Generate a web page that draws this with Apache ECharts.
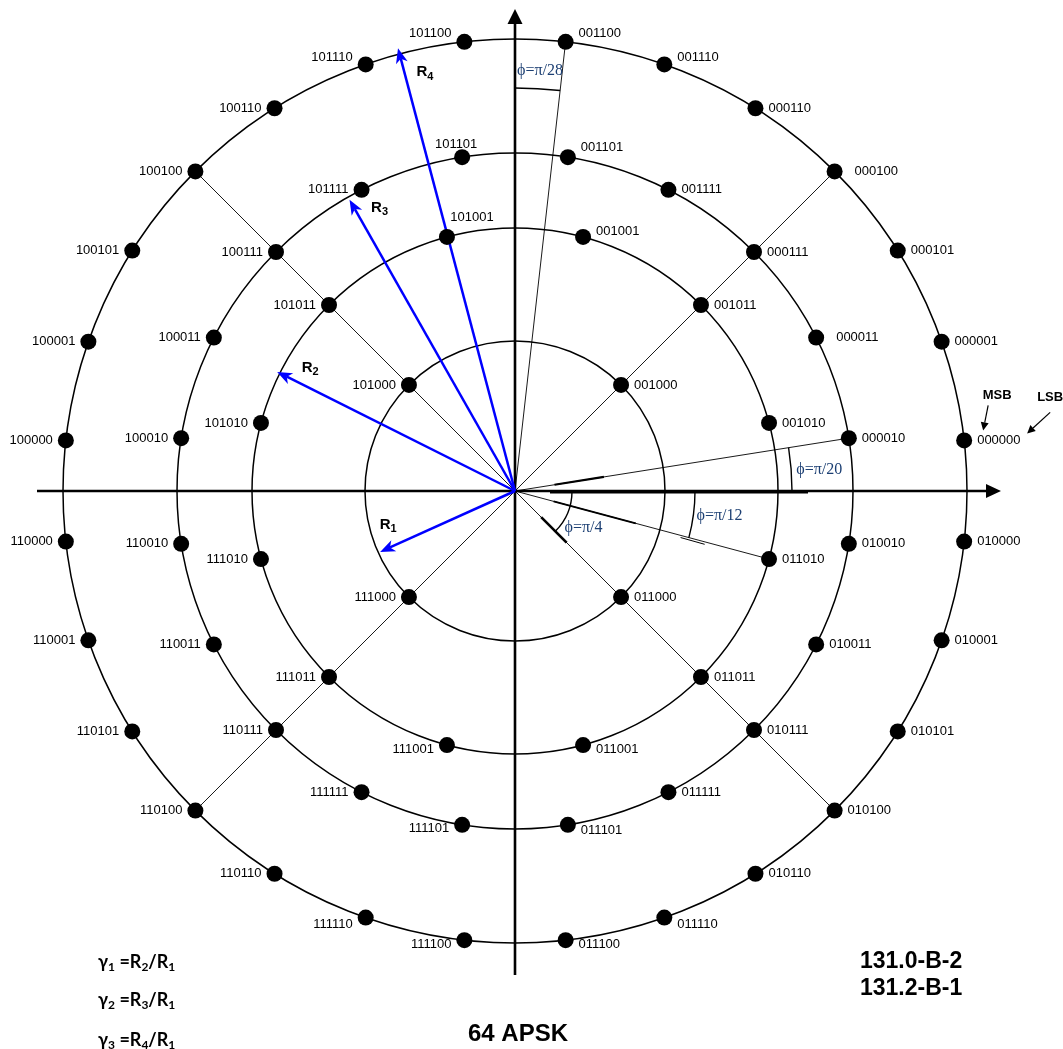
<!DOCTYPE html>
<html>
<head>
<meta charset="utf-8">
<title>64 APSK</title>
<script src="https://cdn.jsdelivr.net/npm/echarts@6/dist/echarts.min.js"></script>
<style>
  html, body { margin: 0; padding: 0; background: #fff; }
  #chart { width: 1063px; height: 1049px; }
</style>
</head>
<body>
<div id="chart"></div>
<script>
// Ring radii R1..R4
const ringRadius = [150, 263, 338, 452];

// Symbol phases on each ring, degrees counter-clockwise from the I axis
const ring1Angles = [45, 135, 225, 315];
const ring2Angles = [15, 45, 75, 105, 135, 165, 195, 225, 255, 285, 315, 345];
const ring3Angles = [9, 27, 45, 63, 81, 99, 117, 135, 153, 171,
                     189, 207, 225, 243, 261, 279, 297, 315, 333, 351];
const ring4Angles = [6.43, 19.29, 32.14, 45, 57.86, 70.71, 83.57,
                     96.43, 109.29, 122.14, 135, 147.86, 160.71, 173.57,
                     186.43, 199.29, 212.14, 225, 237.86, 250.71, 263.57,
                     276.43, 289.29, 302.14, 315, 327.86, 340.71, 353.57];

// Bit mapping (MSB first), in the same order as the phases
const ring1Bits = ['001000', '101000', '111000', '011000'];
const ring2Bits = ['001010', '001011', '001001', '101001', '101011', '101010',
                   '111010', '111011', '111001', '011001', '011011', '011010'];
const ring3Bits = ['000010', '000011', '000111', '001111', '001101',
                   '101101', '101111', '100111', '100011', '100010',
                   '110010', '110011', '110111', '111111', '111101',
                   '011101', '011111', '010111', '010011', '010010'];
const ring4Bits = ['000000', '000001', '000101', '000100', '000110', '001110', '001100',
                   '101100', '101110', '100110', '100100', '100101', '100001', '100000',
                   '110000', '110001', '110101', '110100', '110110', '111110', '111100',
                   '011100', '011110', '010110', '010100', '010101', '010001', '010000'];

// Radius vectors drawn in blue
const vectorNames = ['1', '2', '3', '4'];
const vectorLength = [148, 266, 335, 458];
const vectorAngle = [204.3, 153.4, 119.6, 104.8];

// Phase offset annotations
const phaseText = ['ϕ=π/28', 'ϕ=π/20', 'ϕ=π/12', 'ϕ=π/4'];

// ---------------------------------------------------------------------------
// Layout / style helpers

const LABEL_FONT = '"Liberation Sans", Arial, Helvetica, sans-serif';
const SERIF_FONT = '"Liberation Serif", "DejaVu Serif", "Times New Roman", serif';
const PHASE_COLOR = '#1c3f73';
const VECTOR_COLOR = '#0000ff';

// Per-symbol label placement where the default left/right does not fit
const labelTweaks = {
  '001100': { offset: [0, -8] },
  '101100': { offset: [0, -8] },
  '001110': { offset: [0, -7] },
  '101110': { offset: [0, -7] },
  '001101': { offset: [0, -10] },
  '101101': { position: 'top', distance: 0, offset: [-6, 2] },
  '101001': { position: 'top', offset: [25, 0] },
  '001001': { offset: [0, -6] },
  '111001': { offset: [0, 4] },
  '011001': { offset: [0, 4] },
  '111101': { offset: [0, 4] },
  '011101': { offset: [0, 6] },
  '111100': { offset: [0, 4] },
  '011100': { offset: [0, 4] },
  '111110': { offset: [0, 7] },
  '011110': { offset: [0, 7] },
  '000011': { distance: 12 },
  '000100': { distance: 12 }
};

const rings = [
  { r: ringRadius[0], angles: ring1Angles, bits: ring1Bits },
  { r: ringRadius[1], angles: ring2Angles, bits: ring2Bits },
  { r: ringRadius[2], angles: ring3Angles, bits: ring3Bits },
  { r: ringRadius[3], angles: ring4Angles, bits: ring4Bits }
];

const pointData = [];
rings.forEach(function (ring) {
  ring.angles.forEach(function (a, i) {
    const bits = ring.bits[i];
    const onRight = Math.cos(a * Math.PI / 180) > 0;
    const t = labelTweaks[bits] || {};
    pointData.push({
      name: bits,
      value: [ring.r, a],
      label: {
        position: t.position || (onRight ? 'right' : 'left'),
        distance: t.distance != null ? t.distance : 5,
        offset: t.offset || [0, 0]
      }
    });
  });
});

// Radial guide lines: the 45° diagonals plus the three phase references
const spokes = [
  [ringRadius[3], ring4Angles[3]],
  [ringRadius[3], ring4Angles[10]],
  [ringRadius[3], ring4Angles[17]],
  [ringRadius[3], ring4Angles[24]],
  [ringRadius[3], ring4Angles[6]],
  [ringRadius[2], ring3Angles[0]],
  [ringRadius[1], ring2Angles[11]]
];

// Phase arcs: angular span and drawing radius, with the label anchor
const phaseMarks = [
  { from: ring4Angles[6], to: 90, r: 403, textAt: [421, 86.6] },
  { from: 0, to: ring3Angles[0], r: 277, textAt: [305, 4.0] },
  { from: ring2Angles[11] - 360, to: 0, r: 180, textAt: [206, -7.0] },
  { from: ring1Angles[3] - 360, to: 0, r: 57, textAt: [78, -28.5] }
];

function arrowParts(from, tip, len, half, notch, color, width) {
  const dx = tip[0] - from[0], dy = tip[1] - from[1];
  const L = Math.sqrt(dx * dx + dy * dy);
  const ux = dx / L, uy = dy / L, px = -uy, py = ux;
  const bx = tip[0] - ux * len, by = tip[1] - uy * len;
  const nx = tip[0] - ux * len * notch, ny = tip[1] - uy * len * notch;
  return [
    { type: 'line', shape: { x1: from[0], y1: from[1], x2: nx, y2: ny },
      style: { stroke: color, lineWidth: width } },
    { type: 'polygon',
      shape: { points: [tip, [bx + px * half, by + py * half], [nx, ny], [bx - px * half, by - py * half]] },
      style: { fill: color } }
  ];
}

function seg(api, r1, r2, a, width, dy) {
  const p = api.coord([r1, a]), q = api.coord([r2, a]);
  const o = dy || 0;
  return { type: 'line', shape: { x1: p[0], y1: p[1] + o, x2: q[0], y2: q[1] + o },
           style: { stroke: '#000', lineWidth: width } };
}

function textEl(x, y, text, style) {
  return {
    type: 'text', x: x, y: y,
    style: Object.assign({
      text: text, align: 'center', verticalAlign: 'middle',
      textAlign: 'center', textVerticalAlign: 'middle', fill: '#000'
    }, style)
  };
}

// Rings, guide lines, phase arcs and the I/Q axes
function renderGrid(params, api) {
  const c = api.coord([0, 0]);
  const unit = (api.coord([100, 0])[0] - c[0]) / 100;
  const kids = [];

  ringRadius.forEach(function (r) {
    kids.push({ type: 'circle', shape: { cx: c[0], cy: c[1], r: r * unit },
                style: { fill: 'none', stroke: '#000', lineWidth: 1.5 } });
  });

  spokes.forEach(function (s) {
    const e = api.coord([s[0], s[1]]);
    kids.push({ type: 'line', shape: { x1: c[0], y1: c[1], x2: e[0], y2: e[1] },
                style: { stroke: '#000', lineWidth: 0.9 } });
  });

  phaseMarks.forEach(function (m) {
    kids.push({ type: 'arc',
                shape: { cx: c[0], cy: c[1], r: m.r * unit,
                         startAngle: -m.to * Math.PI / 180, endAngle: -m.from * Math.PI / 180,
                         clockwise: true },
                style: { fill: 'none', stroke: '#000', lineWidth: 1.4 } });
  });

  // heavier strokes marking the phase references near the origin
  kids.push(seg(api, 35, 293, 0, 2.2, 1.5));
  kids.push(seg(api, 40, 90, ring3Angles[0], 2.2));
  kids.push(seg(api, 40, 125, ring2Angles[11], 2.0));
  kids.push(seg(api, 172, 197, ring2Angles[11] - 0.7, 1.0));
  kids.push(seg(api, 37, 73, ring1Angles[3], 2.6));

  // I and Q axes
  const axisW = 2.6;
  arrowParts(api.coord([478, 180]), api.coord([486, 0]), 15, 7, 1, '#000', axisW)
    .forEach(function (k) { kids.push(k); });
  arrowParts(api.coord([484, 270]), api.coord([482, 90]), 15, 7.5, 1, '#000', axisW)
    .forEach(function (k) { kids.push(k); });

  return { type: 'group', children: kids };
}

// Blue radius vectors with their R labels
const vectorLabelOffset = [[8, -27], [33, -4], [30, 8], [27, 24]];
function renderVectors(params, api) {
  const c = api.coord([0, 0]);
  const kids = [];
  vectorLength.forEach(function (len, i) {
    const tip = api.coord([len, vectorAngle[i]]);
    arrowParts(c, tip, 15, 6, 0.72, VECTOR_COLOR, 2.5).forEach(function (k) { kids.push(k); });
    const o = vectorLabelOffset[i];
    kids.push(textEl(tip[0] + o[0], tip[1] + o[1], '{r|R}{s|' + vectorNames[i] + '}', {
      rich: {
        r: { fontFamily: LABEL_FONT, fontWeight: 'bold', fontSize: 15, lineHeight: 20, fill: '#000', color: '#000' },
        s: { fontFamily: LABEL_FONT, fontWeight: 'bold', fontSize: 11, lineHeight: 12, verticalAlign: 'bottom', fill: '#000', color: '#000' }
      }
    }));
  });
  return { type: 'group', children: kids };
}

// Phase labels and the MSB / LSB markers
function renderNotes(params, api) {
  const kids = [];
  phaseMarks.forEach(function (m, i) {
    const p = api.coord(m.textAt);
    kids.push(textEl(p[0], p[1], phaseText[i], {
      font: '16px ' + SERIF_FONT, fill: PHASE_COLOR
    }));
  });

  const ref = api.coord([ringRadius[3], ring4Angles[0]]);
  const bold13 = 'bold 13px ' + LABEL_FONT;
  kids.push(textEl(ref[0] + 33, ref[1] - 45, 'MSB', { font: bold13 }));
  kids.push(textEl(ref[0] + 86, ref[1] - 43, 'LSB', { font: bold13 }));
  arrowParts([ref[0] + 24, ref[1] - 35], [ref[0] + 19, ref[1] - 10], 8, 4, 1, '#000', 1.2)
    .forEach(function (k) { kids.push(k); });
  arrowParts([ref[0] + 86, ref[1] - 28], [ref[0] + 63, ref[1] - 7], 8, 4, 1, '#000', 1.2)
    .forEach(function (k) { kids.push(k); });

  return { type: 'group', children: kids };
}

function gammaText(idx, num) {
  return '{g|γ}{s|' + idx + '}{g| =R}{s|' + num + '}{g|/R}{s|1}';
}
const gammaRich = {
  g: { fontFamily: 'Lato, "Open Sans", sans-serif', fontWeight: 'bold', fontSize: 18, lineHeight: 23, fill: '#000', color: '#000' },
  s: { fontFamily: 'Lato, "Open Sans", sans-serif', fontWeight: 'bold', fontSize: 12, lineHeight: 14, verticalAlign: 'bottom', fill: '#000', color: '#000' }
};

const chart = echarts.init(document.getElementById('chart'), null, { renderer: 'canvas' });

chart.setOption({
  animation: false,
  backgroundColor: '#ffffff',
  polar: { center: [515, 491], radius: 490 },
  angleAxis: { type: 'value', min: 0, max: 360, startAngle: 0, clockwise: false, show: false },
  radiusAxis: { type: 'value', min: 0, max: 490, show: false },
  series: [
    { type: 'custom', coordinateSystem: 'polar', data: [[0, 0]], renderItem: renderGrid, silent: true, z: 1 },
    { type: 'custom', coordinateSystem: 'polar', data: [[0, 0]], renderItem: renderVectors, silent: true, z: 2 },
    {
      type: 'scatter', coordinateSystem: 'polar', data: pointData,
      symbol: 'circle', symbolSize: 16,
      itemStyle: { color: '#000', opacity: 1 },
      label: { show: true, formatter: '{b}', fontFamily: LABEL_FONT, fontSize: 13, color: '#000' },
      silent: true, z: 3
    },
    { type: 'custom', coordinateSystem: 'polar', data: [[0, 0]], renderItem: renderNotes, silent: true, z: 4 }
  ],
  graphic: [
    { type: 'text', x: 98, y: 962, style: { text: gammaText(1, 2), rich: gammaRich, align: 'left', verticalAlign: 'middle' } },
    { type: 'text', x: 98, y: 1000, style: { text: gammaText(2, 3), rich: gammaRich, align: 'left', verticalAlign: 'middle' } },
    { type: 'text', x: 98, y: 1040, style: { text: gammaText(3, 4), rich: gammaRich, align: 'left', verticalAlign: 'middle' } },
    { type: 'text', x: 860, y: 962, style: { text: '131.0-B-2', font: 'bold 23px ' + LABEL_FONT, fill: '#000', align: 'left', verticalAlign: 'middle' } },
    { type: 'text', x: 860, y: 989, style: { text: '131.2-B-1', font: 'bold 23px ' + LABEL_FONT, fill: '#000', align: 'left', verticalAlign: 'middle' } },
    { type: 'text', x: 518, y: 1034, style: { text: '64 APSK', font: 'bold 24px ' + LABEL_FONT, fill: '#000', align: 'center', verticalAlign: 'middle' } }
  ]
});
</script>
</body>
</html>
